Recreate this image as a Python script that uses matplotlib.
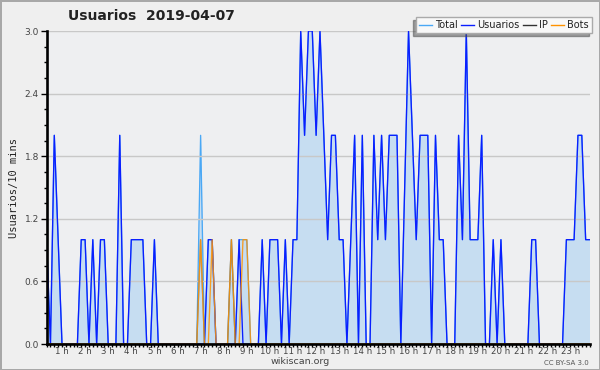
import numpy as np
import matplotlib
matplotlib.use('Agg')
import matplotlib.pyplot as plt
from matplotlib.ticker import MultipleLocator, FixedLocator

# Datos (cada 10 minutos, desde 00:20 hasta 23:50)
usuarios = [
    1, 0, 2, 1,
    0, 0, 0, 0, 0, 1,
    1, 0, 1, 0, 1, 1,
    0, 0, 0, 2, 0, 0,
    1, 1, 1, 1, 0, 0,
    1, 0, 0, 0, 0, 0,
    0, 0, 0, 0, 0, 0,
    0, 0, 1, 1, 0, 0,
    0, 0, 0, 0, 1, 0,
    0, 0, 0, 0, 1, 0,
    1, 1, 1, 0, 1, 0,
    1, 1, 3, 2, 3, 3,
    2, 3, 2, 1, 2, 2,
    1, 1, 0, 1, 2, 0,
    2, 0, 0, 2, 1, 2,
    1, 2, 2, 2, 0, 1.5,
    3, 2, 1, 2, 2, 2,
    0, 2, 1, 1, 0, 0,
    0, 2, 1, 3, 1, 1,
    1, 2, 0, 0, 1, 0,
    1, 0, 0, 0, 0, 0,
    0, 0, 1, 1, 0, 0,
    0, 0, 0, 0, 0, 1,
    1, 1, 2, 2, 1, 1,
]
total = [
    1, 0, 2, 1,
    0, 0, 0, 0, 0, 1,
    1, 0, 1, 0, 1, 1,
    0, 0, 0, 2, 0, 0,
    1, 1, 1, 1, 0, 0,
    1, 0, 0, 0, 0, 0,
    0, 0, 0, 0, 0, 0,
    2, 0, 1, 1, 0, 0,
    0, 0, 1, 0, 1, 1,
    1, 0, 0, 0, 1, 0,
    1, 1, 1, 0, 1, 0,
    1, 1, 3, 2, 3, 3,
    2, 3, 2, 1, 2, 2,
    1, 1, 0, 1, 2, 0,
    2, 0, 0, 2, 1, 2,
    1, 2, 2, 2, 0, 1.5,
    3, 2, 1, 2, 2, 2,
    0, 2, 1, 1, 0, 0,
    0, 2, 1, 3, 1, 1,
    1, 2, 0, 0, 1, 0,
    1, 0, 0, 0, 0, 0,
    0, 0, 1, 1, 0, 0,
    0, 0, 0, 0, 0, 1,
    1, 1, 2, 2, 1, 1,
]
ip = [0] * 40 + [1, 0, 0, 0, 0, 0, 0, 0, 1] + [0] * 93
bots = [0] * 40 + [1, 0, 0, 1, 0, 0, 0, 0, 1, 0, 0, 1, 1] + [0] * 89

inicio_min = 20
paso_min = 10
horas = (inicio_min + paso_min * np.arange(len(usuarios))) / 60.0
etiquetas_x = [f'{h} h' for h in range(1, 24)]

bg = '#efefef'
fig = plt.figure(figsize=(6, 3.7), dpi=100)
fig.patch.set_facecolor(bg)
fig.patch.set_edgecolor('#a8a8a8')
fig.patch.set_linewidth(2)

ax = fig.add_axes([46.6 / 600, 26 / 370, (589.5 - 46.6) / 600, 313 / 370])
ax.set_facecolor('#eeeff1')

lw = 0.95
ax.fill_between(horas, total, 0, color='#c6ddf1', linewidth=0, zorder=1)
ax.plot(horas, total, color='#4aa8f5', linewidth=lw, zorder=2, label='Total')
ax.plot(horas, usuarios, color='#0a1eff', linewidth=lw, zorder=3, label='Usuarios')
ax.plot(horas, ip, color='#333333', linewidth=lw, alpha=0.45, zorder=4, label='IP')
ax.plot(horas, bots, color='#ff9200', linewidth=lw, alpha=0.85, zorder=5, label='Bots')

ax.set_xlim(horas[0], horas[-1])
ax.set_ylim(0, 3.0)

ax.yaxis.set_major_locator(MultipleLocator(0.6))
ax.yaxis.set_minor_locator(MultipleLocator(0.15))
ax.yaxis.set_major_formatter(matplotlib.ticker.FormatStrFormatter('%.1f'))
ax.xaxis.set_major_locator(FixedLocator(range(1, 24)))
ax.set_xticklabels(etiquetas_x)
ax.xaxis.set_minor_locator(MultipleLocator(1 / 6))

ax.grid(axis='y', color='#c8c8c8', linewidth=1)
ax.set_axisbelow(False)
for gl in ax.get_ygridlines():
    gl.set_zorder(1.5)

for s in ['top', 'right']:
    ax.spines[s].set_visible(False)
for s in ['left', 'bottom']:
    ax.spines[s].set_color('black')
    ax.spines[s].set_linewidth(1.9)
    ax.spines[s].set_zorder(6)

ax.tick_params(axis='y', which='major', length=4.5, width=1, direction='out',
               labelsize=6.5, labelcolor='#444444', pad=1)
ax.tick_params(axis='y', which='minor', length=2.5, width=1, direction='out')
ax.tick_params(axis='x', which='major', length=2.5, width=1, direction='out',
               labelsize=6.2, labelcolor='#444444', pad=0)
ax.tick_params(axis='x', which='minor', length=2.5, width=1, direction='out')

ax.set_ylabel('Usuarios/10 mins', family='DejaVu Sans Mono', fontsize=7.5,
              color='#222222', labelpad=4)

fig.text(0.252, 0.956, 'Usuarios  2019-04-07', ha='center', va='center',
         fontsize=10, fontweight='bold', color='#222222')
fig.text(0.5, 0.022, 'wikiscan.org', ha='center', va='center', fontsize=6.8, color='#444444')
fig.text(0.982, 0.020, 'CC BY-SA 3.0', ha='right', va='center', fontsize=5, color='#555555')

leg = ax.legend(loc='upper right', bbox_to_anchor=(592 / 600, 1 - 17 / 370),
                bbox_transform=fig.transFigure, ncol=4, fontsize=7,
                handlelength=1.3, handletextpad=0.35, columnspacing=0.35,
                borderpad=0.3, borderaxespad=0, fancybox=False,
                shadow={'ox': -2.5, 'oy': -2.5, 'shade': 0.7})
leg.get_frame().set_facecolor('#f8f8f8')
leg.get_frame().set_edgecolor('#aaaaaa')
leg.get_frame().set_alpha(1)
leg.get_frame().set_linewidth(1)
leg.set_zorder(10)
for line in leg.get_lines():
    line.set_alpha(1)
    line.set_linewidth(1)
for t in leg.get_texts():
    t.set_color('#222222')

fig.savefig('out.png', dpi=100, facecolor=fig.get_facecolor(),
            edgecolor=fig.get_edgecolor())
